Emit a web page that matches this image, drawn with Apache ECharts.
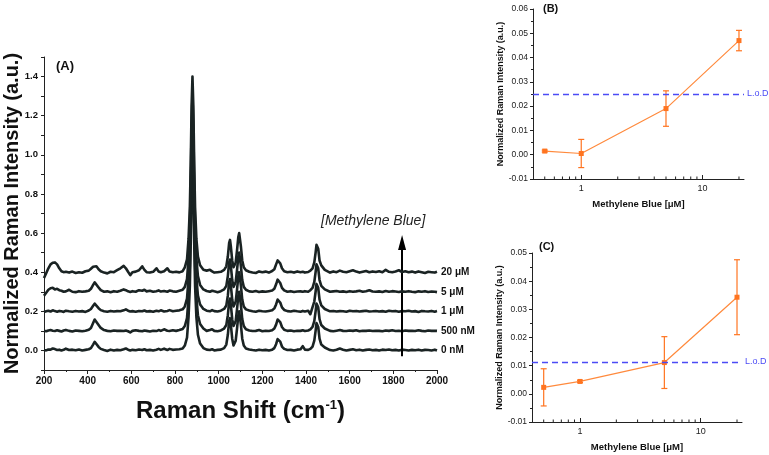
<!DOCTYPE html>
<html>
<head>
<meta charset="utf-8">
<script src="https://cdn.jsdelivr.net/npm/echarts@6/dist/echarts.min.js"></script>
<style>html,body{margin:0;padding:0;background:#fff}#c{width:769px;height:455px}</style>
</head>
<body>
<div id="c"></div>
<script>
// ---------- Panel A: Raman spectra ----------
const shifts = [
200,210,220,230,240,250,260,270,280,290,
300,315,330,345,360,375,390,405,415,425,
432,440,450,460,475,490,505,520,535,550,
565,575,585,595,605,620,635,650,660,670,
685,700,715,725,735,750,765,775,790,805,
820,835,845,855,862,868,872,876,880,884,
888,892,898,905,915,930,945,960,970,980,
995,1010,1025,1035,1042,1048,1052,1056,1062,1068,
1072,1078,1084,1090,1094,1098,1102,1108,1115,1125,
1140,1155,1170,1185,1200,1215,1230,1245,1255,1263,
1270,1276,1282,1290,1300,1315,1330,1345,1360,1375,
1385,1395,1410,1420,1430,1438,1444,1448,1452,1456,
1462,1470,1478,1486,1495,1510,1525,1540,1555,1570,
1585,1600,1615,1630,1645,1660,1675,1690,1705,1720,
1735,1750,1765,1780,1795,1810,1825,1840,1855,1870,
1885,1900,1915,1930,1945,1960,1975,1990,2000];

const spec0nM = [
0.002,0.000,0.005,0.004,0.010,0.007,0.002,0.004,0.000,0.003,
0.009,0.002,0.004,0.001,0.005,0.000,0.003,0.006,0.012,0.030,
0.044,0.036,0.018,0.008,0.002,-0.003,0.004,0.000,0.003,0.001,
0.006,0.010,0.004,0.000,0.003,0.001,0.005,0.002,0.006,0.001,
0.003,0.000,0.004,0.008,0.003,0.009,0.002,0.008,0.003,0.005,
0.006,0.010,0.025,0.065,0.170,0.330,0.550,0.850,1.000,0.850,
0.550,0.330,0.170,0.080,0.035,0.012,0.004,0.002,0.006,0.000,
0.003,0.004,0.012,0.030,0.080,0.150,0.165,0.130,0.060,0.025,
0.025,0.050,0.110,0.180,0.200,0.190,0.130,0.060,0.025,0.010,
0.005,0.002,0.000,0.004,0.001,0.003,0.000,0.004,0.012,0.032,
0.058,0.066,0.045,0.020,0.008,0.002,0.003,0.000,0.004,0.006,
0.022,0.004,0.003,0.008,0.020,0.050,0.100,0.140,0.150,0.120,
0.060,0.030,0.022,0.015,0.005,0.002,0.000,0.004,0.010,0.004,
0.000,0.003,0.006,0.001,0.004,0.000,0.003,0.005,0.001,0.003,
0.000,0.004,0.002,0.005,0.001,0.003,0.000,0.004,0.002,0.000,
0.003,0.001,0.004,0.000,0.003,0.002,0.000,0.004,0.000];

const spec500nM = [
0.100,0.098,0.102,0.104,0.101,0.099,0.103,0.100,0.097,0.102,
0.105,0.100,0.097,0.102,0.100,0.098,0.101,0.106,0.115,0.140,
0.158,0.150,0.130,0.115,0.104,0.100,0.098,0.102,0.100,0.101,
0.099,0.102,0.098,0.092,0.100,0.103,0.100,0.098,0.102,0.100,
0.097,0.101,0.099,0.104,0.100,0.108,0.101,0.099,0.103,0.100,
0.104,0.110,0.125,0.165,0.270,0.430,0.650,0.950,1.100,0.950,
0.650,0.430,0.270,0.180,0.135,0.112,0.100,0.104,0.108,0.100,
0.098,0.102,0.112,0.130,0.180,0.250,0.265,0.230,0.160,0.125,
0.125,0.150,0.210,0.280,0.300,0.290,0.230,0.160,0.125,0.108,
0.102,0.099,0.100,0.104,0.098,0.101,0.099,0.103,0.112,0.132,
0.158,0.166,0.145,0.120,0.106,0.100,0.102,0.098,0.101,0.100,
0.103,0.099,0.102,0.108,0.120,0.150,0.200,0.240,0.250,0.220,
0.160,0.130,0.128,0.112,0.102,0.100,0.098,0.101,0.104,0.100,
0.099,0.102,0.100,0.103,0.098,0.101,0.100,0.102,0.099,0.101,
0.100,0.098,0.102,0.100,0.103,0.099,0.101,0.098,0.102,0.100,
0.101,0.099,0.103,0.100,0.098,0.102,0.100,0.101,0.100];

const spec1uM = [
0.196,0.200,0.203,0.199,0.205,0.201,0.198,0.202,0.200,0.197,
0.203,0.200,0.198,0.202,0.199,0.201,0.197,0.204,0.212,0.228,
0.239,0.232,0.216,0.206,0.200,0.198,0.202,0.199,0.201,0.200,
0.205,0.210,0.203,0.199,0.201,0.198,0.202,0.200,0.204,0.199,
0.201,0.198,0.203,0.200,0.205,0.199,0.202,0.206,0.200,0.203,
0.205,0.210,0.225,0.265,0.370,0.530,0.750,1.050,1.200,1.050,
0.750,0.530,0.370,0.280,0.235,0.212,0.203,0.200,0.206,0.201,
0.199,0.203,0.212,0.230,0.280,0.350,0.365,0.330,0.260,0.225,
0.225,0.250,0.310,0.380,0.400,0.390,0.330,0.260,0.225,0.210,
0.204,0.200,0.198,0.203,0.200,0.199,0.202,0.205,0.215,0.235,
0.260,0.268,0.245,0.220,0.207,0.201,0.199,0.203,0.200,0.198,
0.202,0.199,0.203,0.185,0.222,0.250,0.300,0.340,0.350,0.320,
0.260,0.230,0.222,0.212,0.204,0.200,0.202,0.199,0.201,0.200,
0.198,0.203,0.200,0.202,0.199,0.201,0.203,0.199,0.200,0.202,
0.199,0.201,0.198,0.203,0.200,0.202,0.198,0.201,0.200,0.203,
0.199,0.201,0.197,0.202,0.200,0.199,0.202,0.198,0.201];

const spec5uM = [
0.280,0.295,0.310,0.318,0.320,0.312,0.315,0.308,0.305,0.300,
0.302,0.310,0.300,0.298,0.303,0.300,0.302,0.305,0.315,0.335,
0.348,0.340,0.322,0.308,0.300,0.302,0.298,0.303,0.300,0.305,
0.312,0.308,0.302,0.299,0.303,0.300,0.308,0.305,0.310,0.302,
0.305,0.300,0.303,0.307,0.301,0.304,0.300,0.306,0.302,0.300,
0.305,0.310,0.325,0.365,0.470,0.630,0.850,1.150,1.300,1.150,
0.850,0.630,0.470,0.380,0.335,0.312,0.304,0.300,0.305,0.302,
0.298,0.303,0.312,0.330,0.380,0.450,0.465,0.430,0.360,0.325,
0.325,0.350,0.410,0.480,0.500,0.490,0.430,0.360,0.325,0.310,
0.302,0.300,0.304,0.299,0.302,0.300,0.303,0.306,0.315,0.338,
0.362,0.368,0.345,0.320,0.307,0.300,0.303,0.299,0.301,0.302,
0.300,0.303,0.300,0.308,0.320,0.350,0.400,0.440,0.450,0.420,
0.360,0.330,0.325,0.312,0.303,0.300,0.302,0.304,0.300,0.302,
0.299,0.303,0.300,0.302,0.305,0.300,0.303,0.308,0.301,0.300,
0.302,0.299,0.304,0.300,0.303,0.301,0.299,0.302,0.300,0.303,
0.300,0.298,0.302,0.300,0.303,0.299,0.301,0.300,0.298];

const spec20uM = [
0.370,0.395,0.420,0.440,0.448,0.450,0.440,0.420,0.405,0.400,
0.402,0.398,0.403,0.396,0.400,0.397,0.405,0.408,0.418,0.428,
0.438,0.430,0.415,0.405,0.398,0.394,0.402,0.400,0.410,0.420,
0.432,0.420,0.402,0.385,0.400,0.403,0.410,0.430,0.412,0.400,
0.398,0.402,0.420,0.404,0.400,0.405,0.420,0.404,0.400,0.402,
0.399,0.405,0.425,0.465,0.570,0.730,0.950,1.250,1.400,1.250,
0.950,0.730,0.570,0.480,0.435,0.412,0.408,0.412,0.404,0.398,
0.400,0.402,0.412,0.430,0.480,0.550,0.565,0.530,0.460,0.425,
0.425,0.450,0.510,0.580,0.600,0.590,0.530,0.460,0.425,0.410,
0.402,0.398,0.396,0.404,0.400,0.403,0.398,0.406,0.415,0.440,
0.460,0.467,0.445,0.420,0.405,0.400,0.402,0.398,0.404,0.400,
0.402,0.398,0.401,0.408,0.420,0.450,0.500,0.540,0.550,0.520,
0.460,0.435,0.432,0.412,0.402,0.398,0.404,0.400,0.408,0.402,
0.400,0.405,0.410,0.403,0.398,0.402,0.406,0.400,0.404,0.401,
0.405,0.400,0.412,0.402,0.400,0.404,0.410,0.401,0.405,0.400,
0.403,0.398,0.404,0.400,0.396,0.402,0.400,0.398,0.402];

const spectraNames = ['0 nM', '500 nM', '1 \u03bcM', '5 \u03bcM', '20 \u03bcM'];
const spectra = [spec0nM, spec500nM, spec1uM, spec5uM, spec20uM];

// concentration arrow (data coords): shaft and head
const arrowX = 1840, arrowFrom = -0.03, arrowTo = 0.56, arrowHeadY = 0.552;

// ---------- Panel B ----------
const concB = [0.5, 1, 5, 20];
const intB  = [0.0015, 0.0005, 0.019, 0.047];
const errB  = [0.0004, 0.0058, 0.0073, 0.0042];
const lodB  = 0.025;

// ---------- Panel C ----------
const concC = [0.5, 1, 5, 20];
const intC  = [0.0023, 0.0044, 0.0111, 0.0343];
const errC  = [0.0066, 0.0004, 0.0092, 0.0133];
const lodC  = 0.0113;

const logMinorTicks = [0.5,0.6,0.7,0.8,0.9,2,3,4,5,6,7,8,9,20];

const FONT = 'Liberation Sans, Arial, Helvetica, sans-serif';
const LINE = '#1a2323';
const ORANGE = '#ff7420';
const ORANGE_LINE = '#ff8a3d';
const BLUE = '#4b4bf5';

const chart = echarts.init(document.getElementById('c'), null, {renderer: 'canvas'});

function errorBarSeries(xi, yi, conc, vals, errs) {
  return {
    type: 'custom', xAxisIndex: xi, yAxisIndex: yi, silent: true, z: 3,
    data: conc.map((c, i) => [c, vals[i] - errs[i], vals[i] + errs[i]]),
    renderItem: function (params, api) {
      const top = api.coord([api.value(0), api.value(2)]);
      const bot = api.coord([api.value(0), api.value(1)]);
      const w = 3;
      const st = {stroke: ORANGE, lineWidth: 1.2};
      return {type: 'group', children: [
        {type: 'line', shape: {x1: top[0], y1: top[1], x2: bot[0], y2: bot[1]}, style: st},
        {type: 'line', shape: {x1: top[0]-w, y1: top[1], x2: top[0]+w, y2: top[1]}, style: st},
        {type: 'line', shape: {x1: bot[0]-w, y1: bot[1], x2: bot[0]+w, y2: bot[1]}, style: st}
      ]};
    }
  };
}
function minorTickSeries(xi, yi, yMin) {
  return {
    type: 'custom', xAxisIndex: xi, yAxisIndex: yi, silent: true, z: 1,
    data: logMinorTicks.map(v => [v, yMin]),
    renderItem: function (params, api) {
      const p = api.coord([api.value(0), api.value(1)]);
      return {type: 'line', shape: {x1: p[0], y1: p[1], x2: p[0], y2: p[1]-2.5},
              style: {stroke: '#222', lineWidth: 1}};
    }
  };
}
function lodLine(v) {
  return {
    silent: true, symbol: ['none', 'none'], precision: 5,
    lineStyle: {color: BLUE, width: 1.3, type: [6, 4], opacity: 1},
    label: {show: true, position: 'end', formatter: 'L.o.D', color: BLUE, fontSize: 9, fontFamily: FONT, distance: 3},
    emphasis: {disabled: true},
    data: [{yAxis: v}]
  };
}

const axisLineBlack = {show: true, onZero: false, lineStyle: {color: '#222', width: 1}};

const series = [];
spectra.forEach((s, k) => {
  const top = k === spectra.length - 1;
  series.push({
    name: spectraNames[k], type: 'line', xAxisIndex: 0, yAxisIndex: 0,
    data: shifts.map((x, i) => [x, s[i]]),
    symbol: 'none', lineStyle: {color: LINE, width: 2.6, join: 'round'},
    z: 2 + k,
    endLabel: {show: true, formatter: '{a}', color: '#111', fontSize: 10, fontWeight: 'bold', fontFamily: FONT, distance: 4},
    markLine: top ? {
      silent: true, symbol: ['none', 'none'], precision: 4,
      lineStyle: {color: '#000', width: 2, type: 'solid'},
      label: {show: false},
      emphasis: {disabled: true},
      data: [[{coord: [arrowX, arrowFrom]}, {coord: [arrowX, arrowTo]}]]
    } : undefined,
    markPoint: top ? {
      silent: true, symbol: 'triangle', symbolSize: [8, 15],
      itemStyle: {color: '#000'}, label: {show: false},
      emphasis: {disabled: true},
      data: [{coord: [arrowX, arrowHeadY]}]
    } : undefined
  });
});
series.push({
  type: 'line', xAxisIndex: 1, yAxisIndex: 1, data: concB.map((c, i) => [c, intB[i]]),
  symbol: 'rect', symbolSize: 5, itemStyle: {color: ORANGE}, lineStyle: {color: ORANGE_LINE, width: 1.2}, z: 4,
  markLine: lodLine(lodB)
});
series.push(errorBarSeries(1, 1, concB, intB, errB));
series.push(minorTickSeries(1, 1, -0.01));
series.push({
  type: 'line', xAxisIndex: 2, yAxisIndex: 2, data: concC.map((c, i) => [c, intC[i]]),
  symbol: 'rect', symbolSize: 5, itemStyle: {color: ORANGE}, lineStyle: {color: ORANGE_LINE, width: 1.2}, z: 4,
  markLine: lodLine(lodC)
});
series.push(errorBarSeries(2, 2, concC, intC, errC));
series.push(minorTickSeries(2, 2, -0.01));

const smallName = 'Normalized Raman Intensity (a.u.)';

const option = {
  animation: false,
  backgroundColor: '#fff',
  textStyle: {fontFamily: FONT},
  title: [
    {text: '(A)', left: 56, top: 60, padding: 0, textStyle: {fontSize: 13, fontWeight: 'bold', color: '#111', fontFamily: FONT}},
    {text: '(B)', left: 543, top: 3, padding: 0, textStyle: {fontSize: 11, fontWeight: 'bold', color: '#111', fontFamily: FONT}},
    {text: '(C)', left: 539, top: 241, padding: 0, textStyle: {fontSize: 11, fontWeight: 'bold', color: '#111', fontFamily: FONT}}
  ],
  graphic: [
    {type: 'text', left: 321, top: 214, style: {text: '[Methylene Blue]', font: 'italic 14px ' + FONT, fill: '#222'}}
  ],
  grid: [
    {left: 44, right: 332, top: 57, bottom: 85, outerBoundsMode: 'none', containLabel: false},
    {left: 533, right: 25, top: 9, bottom: 276, outerBoundsMode: 'none', containLabel: false},
    {left: 532, right: 27, top: 253, bottom: 33, outerBoundsMode: 'none', containLabel: false}
  ],
  xAxis: [
    {type: 'value', gridIndex: 0, min: 200, max: 2000, interval: 200,
     name: '{a|Raman Shift (cm}{s|-1}{a|)}', nameLocation: 'middle', nameGap: 29,
     nameTextStyle: {rich: {
       a: {fontSize: 24, fontWeight: 'bold', color: '#111', fontFamily: FONT},
       s: {fontSize: 13, fontWeight: 'bold', color: '#111', fontFamily: FONT, verticalAlign: 'top', padding: [0, 0, 12, 0]}
     }},
     axisLine: axisLineBlack, axisTick: {show: true, length: 4, lineStyle: {color: '#222'}},
     minorTick: {show: true, splitNumber: 2, length: 2, lineStyle: {color: '#222'}},
     axisLabel: {fontSize: 10, fontWeight: 'bold', color: '#111', margin: 6, formatter: v => String(v)},
     splitLine: {show: false}},
    {type: 'log', gridIndex: 1, min: 0.4, max: 22, logBase: 10,
     name: 'Methylene Blue [\u03bcM]', nameLocation: 'middle', nameGap: 20,
     nameTextStyle: {fontSize: 9.5, fontWeight: 'bold', color: '#111'},
     axisLine: axisLineBlack, axisTick: {show: true, inside: true, length: 4, lineStyle: {color: '#222'}},
     axisLabel: {fontSize: 9, color: '#222', margin: 5, showMinLabel: false, showMaxLabel: false},
     splitLine: {show: false}},
    {type: 'log', gridIndex: 2, min: 0.4, max: 22, logBase: 10,
     name: 'Methylene Blue [\u03bcM]', nameLocation: 'middle', nameGap: 20,
     nameTextStyle: {fontSize: 9.5, fontWeight: 'bold', color: '#111'},
     axisLine: axisLineBlack, axisTick: {show: true, inside: true, length: 4, lineStyle: {color: '#222'}},
     axisLabel: {fontSize: 9, color: '#222', margin: 5, showMinLabel: false, showMaxLabel: false},
     splitLine: {show: false}}
  ],
  yAxis: [
    {type: 'value', gridIndex: 0, min: -0.1, max: 1.5, interval: 0.1,
     name: 'Normalized Raman Intensity (a.u.)', nameLocation: 'middle', nameGap: 22, nameMoveOverlap: false,
     nameTextStyle: {fontSize: 20, fontWeight: 'bold', color: '#111'},
     axisLine: axisLineBlack, axisTick: {show: true, length: 3, lineStyle: {color: '#222'}},
     axisLabel: {fontSize: 9.5, fontWeight: 'bold', color: '#111', margin: 6,
       formatter: function (v) {
         const r = Math.round(v * 10);
         if (r < 0 || r > 14 || r % 2 !== 0) return '';
         return (r / 10).toFixed(1);
       }},
     splitLine: {show: false}},
    {type: 'value', gridIndex: 1, min: -0.01, max: 0.06, interval: 0.01,
     name: smallName, nameLocation: 'middle', nameGap: 27,
     nameTextStyle: {fontSize: 9, fontWeight: 'bold', color: '#111'},
     axisLine: axisLineBlack, axisTick: {show: true, length: 3, lineStyle: {color: '#222'}},
     minorTick: {show: true, splitNumber: 2, length: 2, lineStyle: {color: '#222'}},
     axisLabel: {fontSize: 8.5, color: '#222', margin: 5, formatter: v => v.toFixed(2)},
     splitLine: {show: false}},
    {type: 'value', gridIndex: 2, min: -0.01, max: 0.05, interval: 0.01,
     name: smallName, nameLocation: 'middle', nameGap: 27,
     nameTextStyle: {fontSize: 9, fontWeight: 'bold', color: '#111'},
     axisLine: axisLineBlack, axisTick: {show: true, length: 3, lineStyle: {color: '#222'}},
     minorTick: {show: true, splitNumber: 2, length: 2, lineStyle: {color: '#222'}},
     axisLabel: {fontSize: 8.5, color: '#222', margin: 5, formatter: v => v.toFixed(2)},
     splitLine: {show: false}}
  ],
  series: series
};
chart.setOption(option);
</script>
</body>
</html>
